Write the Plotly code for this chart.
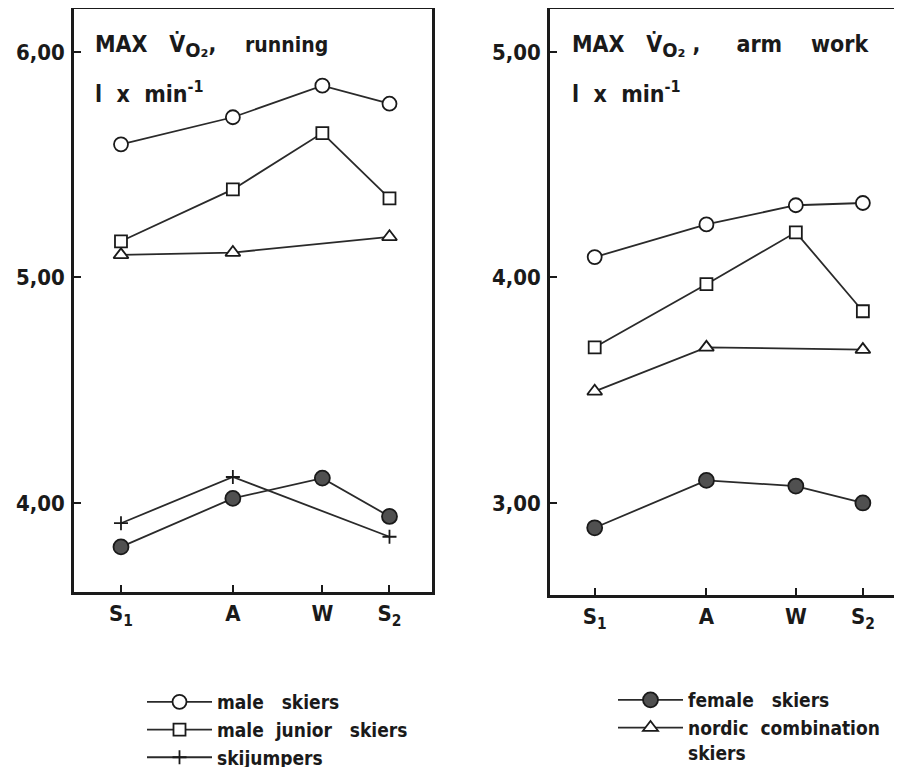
import plotly.graph_objects as go

# ---- data ----
phases = ["S<sub>1</sub>", "A", "W", "S<sub>2</sub>"]
phase_pos = [0, 5, 9, 12]          # approximate time spacing of the test occasions

run_male = [5.59, 5.71, 5.85, 5.77]
run_junior = [5.16, 5.39, 5.64, 5.35]
run_nordic = [5.10, 5.11, None, 5.18]
run_jumpers = [3.91, 4.115, None, 3.85]
run_female = [3.805, 4.02, 4.11, 3.94]

arm_male = [4.09, 4.235, 4.32, 4.33]
arm_junior = [3.69, 3.97, 4.20, 3.85]
arm_nordic = [3.495, 3.69, None, 3.68]
arm_female = [2.89, 3.10, 3.075, 3.00]

run_ticks = [4, 5, 6]
run_ticktext = ["4,00", "5,00", "6,00"]
arm_ticks = [3, 4, 5]
arm_ticktext = ["3,00", "4,00", "5,00"]

FONT = "DejaVu Sans Condensed"
INK = "#1a1a1a"
LINE = "#2a2a2a"

sp = "\u00a0"
styles = {
    "male": dict(name=f"male{sp*3}skiers", symbol="circle", size=14, color="white", legend="legend"),
    "junior": dict(name=f"male{sp*2}junior{sp*3}skiers", symbol="square", size=12, color="white", legend="legend"),
    "jumpers": dict(name="skijumpers", symbol="cross-thin", size=10, color=INK, legend="legend"),
    "female": dict(name=f"female{sp*3}skiers", symbol="circle", size=15, color="#505050", legend="legend2"),
    "nordic": dict(name=f"nordic{sp*2}combination<br>skiers", symbol="triangle-up", size=13, color="white", legend="legend2"),
}

fig = go.Figure()

def add(key, values, xa, ya, show):
    s = styles[key]
    marker = dict(symbol=s["symbol"], size=s["size"], color=s["color"], line=dict(color=INK, width=1.8))
    fig.add_trace(go.Scatter(
        x=phase_pos, y=values, mode="lines+markers", name=s["name"],
        connectgaps=True, xaxis=xa, yaxis=ya,
        line=dict(color=LINE, width=1.8), marker=marker,
        showlegend=show, legend=s["legend"], legendgroup=key,
    ))

# left panel (running)
add("jumpers", run_jumpers, "x", "y", True)
add("female", run_female, "x", "y", True)
add("nordic", run_nordic, "x", "y", True)
add("junior", run_junior, "x", "y", True)
add("male", run_male, "x", "y", True)
# right panel (arm work)
add("female", arm_female, "x2", "y2", False)
add("nordic", arm_nordic, "x2", "y2", False)
add("junior", arm_junior, "x2", "y2", False)
add("male", arm_male, "x2", "y2", False)

W, H = 902, 767
OFF = 8  # page body margin offset
def px(v): return min(1.0, max(0.0, (v - OFF) / W))
def py(v): return min(1.0, max(0.0, 1 - (v - OFF) / H))

tickfont = dict(family=FONT, size=22, color=INK, weight="bold")
axis_common = dict(showgrid=False, zeroline=False, showline=True, linecolor=INK, linewidth=2.5,
                   ticks="inside", ticklen=7, tickwidth=1.5, tickcolor=INK, tickfont=tickfont)
legfont = dict(family=FONT, size=19, color=INK, weight="bold")

fig.update_layout(
    width=W, height=H, margin=dict(l=0, r=0, t=0, b=0, autoexpand=False),
    paper_bgcolor="white", plot_bgcolor="white",
    font=dict(family=FONT, color=INK),
    xaxis=dict(domain=[px(74), px(432)], range=[-2.1, 13.9], tickvals=phase_pos, ticktext=phases,
               mirror=True, anchor="y", **axis_common),
    yaxis=dict(domain=[py(592), py(9)], range=[3.605, 6.19], tickvals=run_ticks, ticktext=run_ticktext,
               mirror=True, anchor="x", ticklabelstandoff=2, **axis_common),
    xaxis2=dict(domain=[px(550), px(906)], range=[-2.0, 13.93], tickvals=phase_pos, ticktext=phases,
                mirror=True, anchor="y2", **axis_common),
    yaxis2=dict(domain=[py(595), py(9)], range=[2.592, 5.19], tickvals=arm_ticks, ticktext=arm_ticktext,
                mirror=False, anchor="x2", ticklabelstandoff=2, **axis_common),
    legend=dict(x=px(142), y=py(683), xanchor="left", yanchor="top", bgcolor="rgba(0,0,0,0)",
                font=legfont, traceorder="normal", tracegroupgap=0, itemwidth=65),
    legend2=dict(x=px(613), y=py(681), xanchor="left", yanchor="top", bgcolor="rgba(0,0,0,0)",
                 font=legfont, traceorder="normal", tracegroupgap=0, itemwidth=65, valign="top"),
)

order = {"male": 1, "junior": 2, "jumpers": 3, "female": 1, "nordic": 2}
for tr in fig.data:
    tr.legendrank = order[tr.legendgroup]

def label(x, y, text):
    fig.add_annotation(x=px(x), y=py(y), xref="paper", yref="paper", xanchor="left", yanchor="middle",
                       text=text, showarrow=False,
                       font=dict(family=FONT, size=23, color=INK, weight="bold"))

vo2 = f"V\u0307<sub><span style='font-size:20px'>O₂</span></sub>"
label(93, 47, f"MAX{sp*3}{vo2},{sp*4}<span style='font-size:21px'>running</span>")
label(93, 92, f"l{sp*2}x{sp*2}min<sup>-1</sup>")
label(570, 47, f"MAX{sp*3}{vo2}{sp},{sp*5}arm{sp*4}work")
label(570, 92, f"l{sp*2}x{sp*2}min<sup>-1</sup>")

fig.write_html("out.html")
